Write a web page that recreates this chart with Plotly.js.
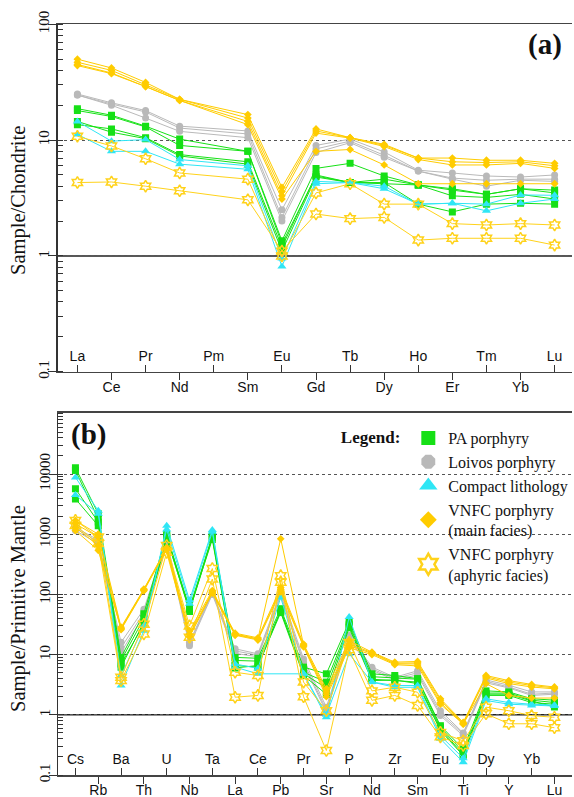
<!DOCTYPE html>
<html><head><meta charset="utf-8">
<script src="https://cdn.plot.ly/plotly-3.0.1.min.js"></script>
<style>html,body{margin:0;padding:0;background:#fff}#chart{width:574px;height:797px}</style>
</head><body><div id="chart"></div>
<script>
// ---------- categories ----------
const reeElements = ['La','Ce','Pr','Nd','Pm','Sm','Eu','Gd','Tb','Dy','Ho','Er','Tm','Yb','Lu'];
const spiderElements = ['Cs','Rb','Ba','Th','U','Nb','Ta','La','Ce','Pb','Pr','Sr','P','Nd','Zr','Sm','Eu','Ti','Dy','Y','Yb','Lu'];
const yTicksTop = [0.1, 1, 10, 100];
const yTicksBottom = [0.1, 1, 10, 100, 1000, 10000];

// ---------- (a) Sample/Chondrite ----------
const reePA1 = [18.7,16.4,13.2,10.2,null,8.0,1.35,5.7,6.3,4.9,4.1,3.8,3.4,3.8,3.7];
const reePA2 = [18.0,16.0,13.0,9.0,null,8.0,1.27,4.9,4.3,4.6,4.1,3.3,3.2,3.4,3.1];
const reePA3 = [13.6,12.5,10.5,7.5,null,6.5,1.19,5.0,4.3,4.3,2.8,2.4,2.8,2.85,2.8];
const reePA4 = [14.5,11.7,10.3,7.3,null,6.2,1.10,4.8,4.3,4.2,4.1,3.7,3.4,3.8,3.5];
const reeLo1 = [25,21,18,13.2,null,12,2.5,9.0,10.2,7.9,5.5,5.2,4.9,4.8,5.0];
const reeLo2 = [24.5,20.5,17.5,12.7,null,11.3,2.15,8.4,9.8,7.4,5.4,4.7,4.5,4.6,4.6];
const reeLo3 = [24.5,20,15.5,11.9,null,10.5,2.0,7.8,9.5,7.1,5.4,4.6,4.0,4.5,4.4];
const reeCo1 = [14.5,9.8,10.1,6.8,null,6.0,0.95,4.4,4.3,4.0,2.8,2.85,2.8,3.36,3.34];
const reeCo2 = [11.2,8.0,8.0,6.2,null,5.6,0.81,4.2,4.3,3.8,2.8,2.85,2.45,2.85,3.1];
const reeMa1 = [50,42,31.5,22.5,null,16.6,3.9,12.5,10.5,9.2,7.0,7.0,6.7,6.7,6.3];
const reeMa2 = [47,40,30,22.5,null,15.5,3.6,12.0,10.5,9.0,7.0,6.5,6.4,6.5,6.0];
const reeMa3 = [45,38,29,22,null,14.5,3.3,11.5,10.4,8.8,6.8,6.1,6.1,6.3,5.7];
const reeMa4 = [44,37.5,29,22,null,13.6,3.1,8.0,8.3,6.1,4.2,4.2,4.2,4.2,4.2];
const reeAp1 = [10.8,8.9,6.9,5.2,null,4.6,1.0,3.5,4.2,2.8,2.8,1.9,1.85,1.9,1.85];
const reeAp2 = [4.3,4.35,4.0,3.65,null,3.05,1.1,2.3,2.1,2.15,1.37,1.42,1.42,1.42,1.24];

// ---------- (b) Sample/Primitive Mantle ----------
const spPA1 = [12700,2200,9,48,1000,54,950,9.0,8.7,58,6.2,4.8,35,4.8,4.5,4.0,0.66,0.27,2.5,2.4,1.85,1.75];
const spPA2 = [11500,1800,8,40,950,60,900,8.0,7.8,52,5.1,3.5,32,4.3,4.1,3.9,0.62,0.24,2.3,2.3,1.75,1.6];
const spPA3 = [5700,1600,6.2,35,900,52,880,6.6,6.2,55,4.8,2.8,30,3.9,3.7,3.5,0.58,0.22,2.1,2.1,1.6,1.5];
const spPA4 = [3870,1390,7,32,850,56,820,6.0,6.6,50,4.5,2.2,28,3.7,3.8,3.3,0.55,0.21,2.2,2.2,1.7,1.35];
const spCo1 = [8800,2470,3.07,25,1390,80,1180,7.0,5.9,89,4.8,0.91,42,3.5,3.07,3.07,0.45,0.19,1.85,1.6,1.5,1.45];
const spCo2 = [4500,2200,4.5,30,1200,70,1100,6.2,4.8,null,4.8,1.0,10.3,3.5,2.87,2.87,0.40,0.163,1.73,1.5,1.43,1.4];
const spLo1 = [1300,800,16,57,800,16,110,12.5,10.3,110,8.5,1.34,21,6.2,4.2,5.4,1.17,0.50,3.8,3.1,2.4,2.4];
const spLo2 = [1250,750,13,50,700,15,105,11.5,9.8,100,7.5,1.2,19.5,5.8,4.0,5.0,1.05,0.48,3.6,2.9,2.2,2.3];
const spLo3 = [1150,700,11,45,650,14,100,10.5,9.2,95,7.0,1.1,18,5.5,3.8,4.6,0.97,0.45,3.4,2.8,2.1,2.2];
const spMa1 = [1690,1000,28.5,123,600,25,116,22.7,19,130,15,2.7,17,11,7.5,7.7,1.85,0.75,4.5,3.7,3.2,2.9];
const spMa2 = [1490,900,27,118,580,22,110,22,18.3,840,14.5,2.4,15,10.8,7.2,7.3,1.75,0.72,4.3,3.5,3.07,2.8];
const spMa3 = [1300,650,26,115,560,20,109,21.5,18,120,14,2.2,14,10.5,7.0,7.0,1.6,0.71,4.1,3.3,2.9,2.7];
const spMa4 = [1150,540,27,120,550,20,105,21,17.5,110,13.5,2.0,13,10,6.8,6.5,1.5,0.70,3.3,2.1,1.9,1.9];
const spAp1 = [1700,900,4.2,32,650,30,270,5.1,4.5,205,3.5,1.17,16,2.5,2.87,2.37,0.51,0.37,1.34,1.17,0.97,0.91];
const spAp2 = [1400,700,3.7,22,500,19.5,180,1.96,2.1,160,2.0,0.255,12,1.74,2.1,1.43,0.43,0.31,1.04,0.71,0.71,0.61];

// ---------- groups ----------
const groupNames = ['PA porphyry','Loivos porphyry','Compact lithology','VNFC porphyry<br>(main facies)','VNFC porphyry<br>(aphyric facies)'];
const groupColors = ['#16e016','#b9b9b9','#2fe6f5','#ffcc00','#ffd21a'];
const groupSymbols = ['square','circle','triangle-up','diamond','hexagram-open'];
const groupSizes = [7,7,8,6,9];
const legendSymbols = ['square','octagon','triangle-up','diamond','hexagram-open'];
const legendSizes = [14,15,16,13,16];
const reeSamples = [[reePA1,reePA2,reePA3,reePA4],[reeLo1,reeLo2,reeLo3],[reeCo1,reeCo2],[reeMa1,reeMa2,reeMa3,reeMa4],[reeAp1,reeAp2]];
const spSamples = [[spPA1,spPA2,spPA3,spPA4],[spLo1,spLo2,spLo3],[spCo1,spCo2],[spMa1,spMa2,spMa3,spMa4],[spAp1,spAp2]];

const traces = [];
// empty traces so the overlaying label axes get drawn
traces.push({type:'scatter', mode:'markers', x:[null], y:[null], xaxis:'x2', yaxis:'y', showlegend:false, hoverinfo:'skip'});
traces.push({type:'scatter', mode:'markers', x:[null], y:[null], xaxis:'x4', yaxis:'y2', showlegend:false, hoverinfo:'skip'});
const drawOrder = [1,0,2,4,3];
function addSet(samples, elements, xa, ya){
  const xs = elements.map((_, i) => i);
  drawOrder.forEach(g => {
    samples[g].forEach(vals => {
      traces.push({
        type:'scatter', mode:'lines+markers', x: xs, y: vals, xaxis: xa, yaxis: ya,
        connectgaps: true, showlegend: false, hoverinfo:'skip',
        line:{color: groupColors[g], width: 1},
        marker:{symbol: groupSymbols[g], size: groupSizes[g], color: groupColors[g],
                line:{color: groupColors[g], width: g===4 ? 1.5 : 0}}
      });
    });
  });
}
addSet(reeSamples, reeElements, 'x', 'y');
addSet(spSamples, spiderElements, 'x3', 'y2');
groupNames.forEach((n, g) => {
  traces.push({type:'scatter', mode:'markers', x:[null], y:[null], xaxis:'x3', yaxis:'y2', name:n, showlegend:true,
    marker:{symbol: legendSymbols[g], size: legendSizes[g], color: groupColors[g], line:{color: groupColors[g], width: g===4 ? 2.5 : 0}}});
});

const sans = 'Liberation Sans, Arial, sans-serif';
const serif = 'Liberation Serif, Times New Roman, serif';
const tickFont = {family: sans, size: 14, color: '#111'};
const yFont = {family: serif, size: 15, color: '#111'};
const evenIdx = arr => arr.map((_, i) => i).filter(i => i % 2 === 0);
const oddIdx = arr => arr.map((_, i) => i).filter(i => i % 2 === 1);

function xOuter(elements, range, domain, anchor){
  return {domain, anchor, range, tickmode:'array', tickvals: oddIdx(elements), ticktext: oddIdx(elements).map(i => elements[i]),
    ticks:'outside', ticklen:7, tickwidth:1, tickcolor:'#333', ticklabelstandoff:-5, showline:true, linecolor:'#444', linewidth:1.5, mirror:true,
    showgrid:false, zeroline:false, tickfont: tickFont, fixedrange:true};
}
function xInner(elements, range, over, anchor){
  return {overlaying: over, anchor, range, tickmode:'array', tickvals: evenIdx(elements), ticktext: evenIdx(elements).map(i => elements[i]),
    ticks:'inside', ticklen:7, tickwidth:1, tickcolor:'#333', ticklabelstandoff:-26, showline:false,
    showgrid:false, zeroline:false, tickfont: tickFont, fixedrange:true};
}
function yLog(range, domain, anchor, vals){
  return {type:'log', domain, anchor, range, tickmode:'array', tickvals: vals, ticktext: vals.map(String),
    tickangle:-90, ticks:'outside', ticklen:8, tickwidth:1, tickcolor:'#333', ticklabelstandoff:-7, showline:true, linecolor:'#333', linewidth:1.5,
    showgrid:true, gridcolor:'#555', gridwidth:1, griddash:'dot', zeroline:false, tickfont: yFont,
    minor:{ticks:'inside', ticklen:5, tickwidth:1, tickcolor:'#333', dtick:'D1', showgrid:false}, fixedrange:true};
}

const layout = {
  width:574, height:797, margin:{l:0,r:0,t:0,b:0}, paper_bgcolor:'#fff', plot_bgcolor:'#fff',
  xaxis: xOuter(reeElements, [-0.576, 14.51], [0.101, 1], 'y'),
  xaxis2: xInner(reeElements, [-0.576, 14.51], 'x', 'y'),
  yaxis: yLog([-1, 2], [0.5336, 0.9695], 'x', yTicksTop),
  xaxis3: xOuter(spiderElements, [-0.76, 21.77], [0.1016, 1], 'y2'),
  xaxis4: xInner(spiderElements, [-0.76, 21.77], 'x3', 'y2'),
  yaxis2: yLog([-1, 5.02], [0.0276, 0.4822], 'x3', yTicksBottom),
  shapes: [
    {type:'line', xref:'x domain', x0:0, x1:1, yref:'y', y0:1, y1:1, line:{color:'#222', width:1.5}, layer:'below'},
    {type:'line', xref:'x3 domain', x0:0, x1:1, yref:'y2', y0:1, y1:1, line:{color:'#222', width:1.5}, layer:'below'}
  ],
  annotations: [
    {text:'Sample/Chondrite', xref:'paper', yref:'paper', x:18/574, y:1-200/797, xanchor:'center', yanchor:'middle', textangle:-90, showarrow:false, font:{family:serif, size:20.5, color:'#111'}},
    {text:'Sample/Primitive Mantle', xref:'paper', yref:'paper', x:18/574, y:1-608/797, xanchor:'center', yanchor:'middle', textangle:-90, showarrow:false, font:{family:serif, size:20.5, color:'#111'}},
    {text:'<b>(a)</b>', xref:'paper', yref:'paper', x:547/574, y:1-45/797, xanchor:'center', yanchor:'middle', showarrow:false, font:{family:serif, size:29, color:'#111'}},
    {text:'<b>(b)</b>', xref:'paper', yref:'paper', x:89/574, y:1-434/797, xanchor:'center', yanchor:'middle', showarrow:false, font:{family:serif, size:29, color:'#111'}}
  ],
  legend: {x:340/574, xanchor:'left', y:1-421/797, yanchor:'top', bgcolor:'rgba(0,0,0,0)', borderwidth:0,
    font:{family:serif, size:16, color:'#111'}, itemsizing:'trace', traceorder:'normal',
    title:{text:'<b>Legend:</b>', side:'left', font:{family:serif, size:17, color:'#111'}}},
  showlegend: true
};
Plotly.newPlot('chart', traces, layout, {staticPlot:true, displayModeBar:false});
</script></body></html>
